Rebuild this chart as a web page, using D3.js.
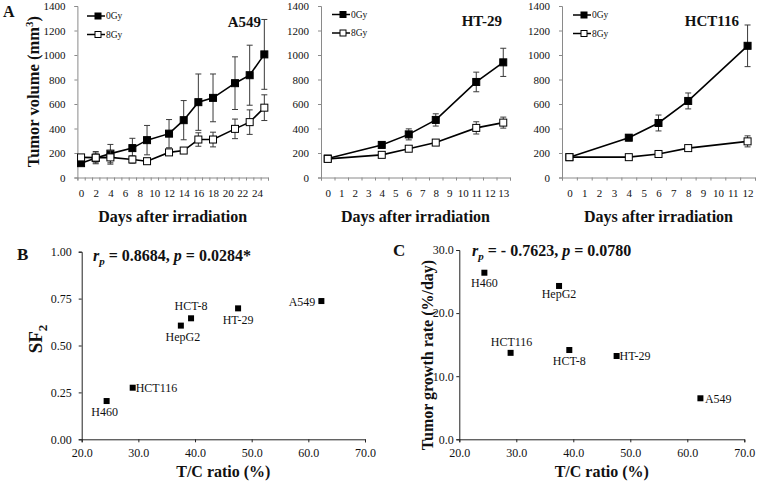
<!DOCTYPE html>
<html><head><meta charset="utf-8">
<script src="https://cdn.jsdelivr.net/npm/d3@7/dist/d3.min.js"></script>
<style>
body{margin:0;background:#fff}
svg{display:block}
text{font-family:"Liberation Serif","Times New Roman",serif;fill:#111}
</style>
</head><body>
<svg id="c" width="760" height="483"></svg>
<script>
// ---------- DATA ----------
// Panel A: tumour volume (mm3) vs days after irradiation
const a549Days    = [0,2,4,7,9,12,14,16,18,21,23,25];
const a549Ctrl    = [117,160,195,240,305,358,468,615,650,770,835,1005];
const a549CtrlErr = [20,40,75,80,120,115,160,230,195,215,245,285];
const a549Irr     = [164,162,164,147,133,205,220,310,310,397,452,570];
const a549IrrErr  = [20,50,55,30,20,20,20,55,60,80,100,105];

const ht29Days    = [0,4,6,8,11,13];
const ht29Ctrl    = [155,266,352,470,780,940];
const ht29CtrlErr = [10,25,45,50,80,115];
const ht29Irr     = [152,185,235,285,405,448];
const ht29IrrErr  = [10,15,15,20,50,45];

const hct116Days    = [0,4,6,8,12];
const hct116Ctrl    = [166,325,445,625,1075];
const hct116CtrlErr = [10,25,65,65,170];
const hct116Irr     = [166,166,192,240,295];
const hct116IrrErr  = [10,10,10,10,45];

const volTicks = [0,200,400,600,800,1000,1200,1400];
const a549XLabels = [0,2,4,6,8,10,12,14,16,18,20,22,24];
const ht29XLabels = [0,1,2,3,4,5,6,7,8,9,10,11,12,13];
const hct116XLabels = [0,1,2,3,4,5,6,7,8,9,10,11,12];
const seriesNames = ["0Gy","8Gy"];

// Panels B & C
const cellLines  = ["A549","HT-29","HCT-8","HepG2","HCT116","H460"];
const tcRatio    = [62.3,47.6,39.3,37.5,29.0,24.4];
const sf2        = [0.737,0.698,0.645,0.606,0.275,0.204];
const growthRate = [6.5,13.2,14.15,24.3,13.7,26.4];
const tcTicks    = [20,30,40,50,60,70];
const sf2Ticks   = [0,0.25,0.5,0.75,1];
const rateTicks  = [0,10,20,30];

// ---------- DRAWING ----------
const svg = d3.select("#c");
const yVol = d3.scaleLinear().domain([0,1400]).range([177.5,6]);
const axisGray = "#8a8a8a";

function styleAxis(g, col){
  g.attr("font-family",null);
  g.select(".domain").attr("stroke", col);
  g.selectAll(".tick line").attr("stroke", col);
  g.selectAll("text").attr("fill","#111").style("font-family",'"Liberation Serif",serif');
}

function growthPanel(cfg){
  const n = cfg.nCat;
  const x = d3.scaleLinear().domain([-0.5, n-0.5]).range(cfg.xr);
  const g = svg.append("g");
  const ya = g.append("g").attr("transform",`translate(${cfg.xr[0]},0)`)
    .call(d3.axisLeft(yVol).tickValues(volTicks).tickFormat(d3.format("d")).tickSizeOuter(0).tickSize(3).tickPadding(9));
  ya.selectAll("text").style("font-size","11px");
  styleAxis(ya, axisGray);
  const bounds = d3.range(n+1).map(i=>i-0.5);
  const xa = g.append("g").attr("transform",`translate(0,${yVol(0)})`)
    .call(d3.axisBottom(x).tickValues(bounds).tickFormat("").tickSizeOuter(0).tickSize(3));
  styleAxis(xa, axisGray);
  const xl = g.append("g").attr("transform",`translate(0,${yVol(0)})`)
    .call(d3.axisBottom(x).tickValues(cfg.labels).tickFormat(d3.format("d")).tickSize(0).tickPadding(12));
  xl.select(".domain").remove();
  xl.selectAll("text").style("font-size","11px");
  styleAxis(xl, axisGray);

  const series = [
    {v:cfg.ctrl, e:cfg.ctrlErr, fill:"#000"},
    {v:cfg.irr,  e:cfg.irrErr,  fill:"#fff"}
  ];
  const line = d3.line().x((d,i)=>x(cfg.days[i])).y(d=>yVol(d));
  series.forEach(s=>{
    const eb = g.append("g").attr("stroke","#3a3a3a").attr("stroke-width",1);
    s.v.forEach((v,i)=>{
      const cx = x(cfg.days[i]), t = yVol(v+s.e[i]), b = yVol(Math.max(0,v-s.e[i]));
      eb.append("line").attr("x1",cx).attr("x2",cx).attr("y1",t).attr("y2",b);
      eb.append("line").attr("x1",cx-3).attr("x2",cx+3).attr("y1",t).attr("y2",t);
      eb.append("line").attr("x1",cx-3).attr("x2",cx+3).attr("y1",b).attr("y2",b);
    });
    g.append("path").datum(s.v).attr("d",line).attr("fill","none").attr("stroke","#000").attr("stroke-width",1.6);
    g.selectAll(null).data(s.v).enter().append("rect")
      .attr("x",(d,i)=>x(cfg.days[i])-3.5).attr("y",d=>yVol(d)-3.5)
      .attr("width",7).attr("height",7).attr("fill",s.fill).attr("stroke","#000").attr("stroke-width",1);
  });
  // legend
  const lg = g.append("g");
  seriesNames.forEach((nm,i)=>{
    const yy = cfg.leg[1] + i*18.5;
    lg.append("line").attr("x1",cfg.leg[0]).attr("x2",cfg.leg[0]+18).attr("y1",yy).attr("y2",yy)
      .attr("stroke","#000").attr("stroke-width",1.5);
    lg.append("rect").attr("x",cfg.leg[0]+11-3).attr("y",yy-3).attr("width",6).attr("height",6)
      .attr("fill",i===0?"#000":"#fff").attr("stroke","#000");
    lg.append("text").attr("x",cfg.leg[0]+19).attr("y",yy+3.2).text(nm).style("font-size","9.5px");
  });
  g.append("text").attr("x",cfg.title[0]).attr("y",cfg.title[1]).attr("text-anchor","end")
    .style("font-size","15px").style("font-weight","bold").text(cfg.name);
  g.append("text").attr("x",(cfg.xr[0]+cfg.xr[1])/2).attr("y",222).attr("text-anchor","middle")
    .style("font-size","16px").style("font-weight","bold").text("Days after irradiation");
}

growthPanel({name:"A549", nCat:26, xr:[77.4,268], labels:a549XLabels, days:a549Days,
  ctrl:a549Ctrl, ctrlErr:a549CtrlErr, irr:a549Irr, irrErr:a549IrrErr, leg:[87,16], title:[261,27]});
growthPanel({name:"HT-29", nCat:14, xr:[321,510], labels:ht29XLabels, days:ht29Days,
  ctrl:ht29Ctrl, ctrlErr:ht29CtrlErr, irr:ht29Irr, irrErr:ht29IrrErr, leg:[332,14.5], title:[502,25.5]});
growthPanel({name:"HCT116", nCat:13, xr:[562,755], labels:hct116XLabels, days:hct116Days,
  ctrl:hct116Ctrl, ctrlErr:hct116CtrlErr, irr:hct116Irr, irrErr:hct116IrrErr, leg:[573,15], title:[739,25.5]});

svg.append("text").attr("transform","translate(39,91.7) rotate(-90)").attr("text-anchor","middle")
  .style("font-size","16.5px").style("font-weight","bold")
  .call(t=>{t.append("tspan").text("Tumor volume (mm");
            t.append("tspan").attr("dy",-6).style("font-size","11px").text("3");
            t.append("tspan").attr("dy",6).text(")");});
svg.append("text").attr("x",3).attr("y",16.7).style("font-size","16px").style("font-weight","bold").text("A");

// ---------- Scatter panels ----------
const labelPos = {
  B:{ "A549":["l",-6,1], "HT-29":["b",0,12], "HCT-8":["t",0,-12], "HepG2":["b",2,11],
      "HCT116":["r",3,0.5], "H460":["b",-2,11] },
  C:{ "A549":["r",4.5,1], "HT-29":["r",3,0], "HCT-8":["b",0,11], "HepG2":["b",0,8.5],
      "HCT116":["t",1,-10.5], "H460":["b",0,10] }
};

function scatterPanel(cfg){
  const x = d3.scaleLinear().domain([20,70]).range(cfg.xr);
  const y = d3.scaleLinear().domain(cfg.yd).range(cfg.yr);
  const g = svg.append("g");
  const ya = g.append("g").attr("transform",`translate(${cfg.xr[0]},0)`)
    .call(d3.axisLeft(y).tickValues(cfg.yTicks).tickFormat(d3.format(cfg.yFmt)).tickSizeOuter(0).tickSize(3).tickPadding(cfg.yPad));
  ya.selectAll("text").style("font-size","12px");
  styleAxis(ya,"#222");
  const xa = g.append("g").attr("transform",`translate(0,${cfg.yr[0]})`)
    .call(d3.axisBottom(x).tickValues(tcTicks).tickFormat(d3.format(".1f")).tickSizeOuter(0).tickSize(3).tickPadding(6.5));
  xa.selectAll("text").style("font-size","12px");
  styleAxis(xa,"#222");
  cellLines.forEach((nm,i)=>{
    const px = x(tcRatio[i]), py = y(cfg.vals[i]);
    g.append("rect").attr("x",px-3).attr("y",py-3).attr("width",6).attr("height",6).attr("fill","#000");
    const p = cfg.pos[nm];
    const t = g.append("text").style("font-size","12px").attr("dominant-baseline","central").text(nm)
      .attr("x",px+p[1]).attr("y",py+p[2]);
    t.attr("text-anchor", p[0]==="l" ? "end" : p[0]==="r" ? "start" : "middle");
  });
  const a = g.append("text").attr("x",cfg.ann[0]).attr("y",cfg.ann[1]).style("font-size","16px").style("font-weight","bold");
  a.append("tspan").style("font-style","italic").text("r");
  a.append("tspan").style("font-style","italic").style("font-size","11px").attr("dy",4).text("p");
  a.append("tspan").attr("dy",-4).text(cfg.annA);
  a.append("tspan").style("font-style","italic").text("p");
  a.append("tspan").text(cfg.annB);
  g.append("text").attr("x",(cfg.xr[0]+cfg.xr[1])/2).attr("y",477).attr("text-anchor","middle")
    .style("font-size","16px").style("font-weight","bold").text("T/C ratio (%)");
  g.append("text").attr("x",cfg.letter[0]).attr("y",cfg.letter[1]).style("font-size","17px").style("font-weight","bold").text(cfg.letterT);
}

scatterPanel({xr:[81.7,365], yd:[0,1], yr:[439.3,251.7], yTicks:sf2Ticks, yFmt:".2f", yPad:7, vals:sf2, pos:labelPos.B,
  ann:[93,260.5], annA:" = 0.8684, ", annB:" = 0.0284*", letter:[17,260], letterT:"B"});
scatterPanel({xr:[459.3,744.3], yd:[0,30], yr:[439.3,250], yTicks:rateTicks, yFmt:".1f", yPad:2.5, vals:growthRate, pos:labelPos.C,
  ann:[472,256], annA:" = - 0.7623, ", annB:" = 0.0780", letter:[393,255.7], letterT:"C"});

svg.append("text").attr("transform","translate(42,339) rotate(-90)").attr("text-anchor","middle")
  .style("font-size","19px").style("font-weight","bold")
  .call(t=>{t.append("tspan").text("SF");
            t.append("tspan").attr("dy",5).style("font-size","13px").text("2");});
svg.append("text").attr("transform","translate(433,355) rotate(-90)").attr("text-anchor","middle")
  .style("font-size","16px").style("font-weight","bold").text("Tumor growth rate (%/day)");
</script>
</body></html>
